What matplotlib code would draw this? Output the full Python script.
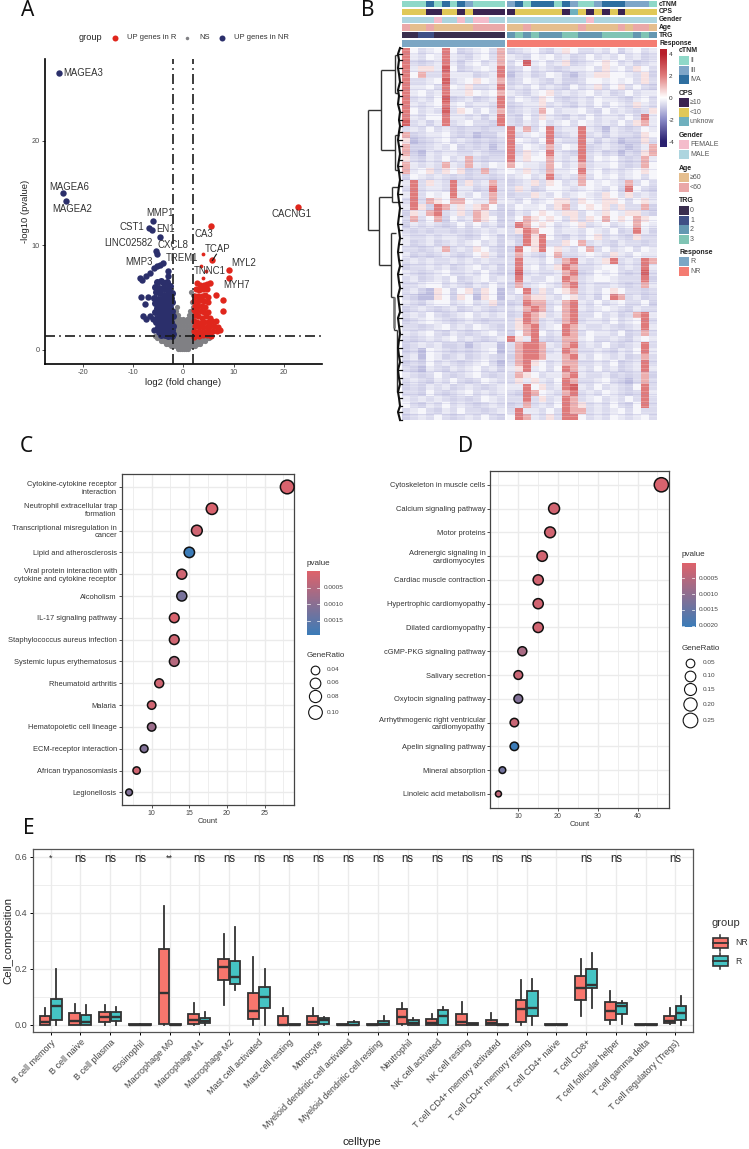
import numpy as np
import matplotlib
matplotlib.use("Agg")
import matplotlib.pyplot as plt
from matplotlib.colors import LinearSegmentedColormap, ListedColormap

plt.rcParams['font.family'] = ['Liberation Sans', 'DejaVu Sans']
plt.rcParams['axes.unicode_minus'] = False

W, H = 749, 1149

##### Panel A - volcano
mag_points = [(-24.7, 26.5), (-24, 14.96), (-23.4, 14.2)]
blue_top = [(-6, 12.3), (-6.8, 11.65), (-6.2, 11.45), (-4.65, 10.75), (-5.5, 9.5), (-5.3, 9.15),
            (-4, 8.3), (-4.65, 8.15), (-5.3, 8), (-5.8, 7.8), (-6.6, 7.4), (-7.5, 7.1), (-8.6, 6.85),
            (-8.2, 6.65), (-3, 7.5), (-3, 7.1), (-8.4, 5.1), (-7, 5.1), (-7.6, 4.4), (-8, 3.25),
            (-7.5, 3), (-6.6, 3.2), (-6, 3), (-5.8, 1.9)]
blue_mass = [(-5.2, 6.5), (-4.5, 6.6), (-3.9, 6.4), (-3.2, 6.5), (-2.6, 6.1), (-5.6, 6), (-4.8, 5.9),
             (-4.1, 5.9), (-3.4, 5.8), (-2.8, 5.6), (-2.2, 5.4), (-5.4, 5.5), (-4.6, 5.4), (-3.9, 5.3),
             (-3.2, 5.2), (-2.5, 5), (-5.9, 5), (-5.1, 4.9), (-4.3, 4.9), (-3.6, 4.7), (-2.9, 4.6),
             (-2.2, 4.6), (-5.6, 4.5), (-4.8, 4.4), (-4, 4.3), (-3.3, 4.2), (-2.6, 4.1), (-5.2, 4),
             (-4.5, 3.9), (-3.7, 3.8), (-3, 3.7), (-2.3, 3.7), (-5.6, 3.6), (-4.9, 3.5), (-4.2, 3.4),
             (-3.4, 3.3), (-2.7, 3.2), (-2.1, 3.2), (-5.2, 3.1), (-4.5, 3), (-3.8, 2.9), (-3.1, 2.9),
             (-2.4, 2.7), (-5.5, 2.7), (-4.8, 2.6), (-4.1, 2.5), (-3.4, 2.4), (-2.7, 2.3), (-2.1, 2.3),
             (-5.1, 2.2), (-4.4, 2.1), (-3.7, 2), (-3, 1.95), (-2.3, 1.9), (-4.9, 1.75), (-4.1, 1.7),
             (-3.4, 1.6), (-2.7, 1.55), (-2.1, 1.5), (-4.5, 1.45), (-3.7, 1.4), (-3, 1.35), (-2.3, 1.35)]
red_big = [(22.8, 13.7), (5.45, 11.8), (5.7, 8.55), (9.1, 7.65), (9.15, 6.9), (6.5, 5.3), (8, 4.8), (8, 3.75), (5.3, 6.4)]
red_small = [(3.85, 9.2), (3.6, 8.05), (4, 6.9), (4.5, 7.5)]
red_mass = [(2.65, 6.4), (3.3, 6.2), (4.1, 6.2), (4.8, 6.3), (2.5, 5.8), (3.2, 5.7), (4, 5.8), (4.8, 5.8),
            (2.4, 5.2), (3, 5.2), (3.7, 5.2), (4.4, 5.3), (5, 5.1), (2.2, 4.7), (2.9, 4.7), (3.5, 4.8),
            (4.2, 4.7), (4.9, 4.6), (2.4, 4.2), (3, 4.2), (3.7, 4.2), (4.4, 4.1), (2.1, 3.8), (2.8, 3.7),
            (3.5, 3.7), (4.2, 3.6), (5, 3.6), (2.3, 3.3), (3, 3.2), (3.7, 3.1), (4.6, 3.2), (5.3, 3.1),
            (2.1, 2.8), (2.8, 2.7), (3.5, 2.6), (4.2, 2.7), (5, 2.7), (5.8, 2.8), (6.5, 2.8), (2.4, 2.3),
            (3.1, 2.2), (3.9, 2.2), (4.7, 2.2), (5.4, 2.3), (6.2, 2.3), (7, 2.2), (2.1, 1.8), (2.8, 1.75),
            (3.5, 1.7), (4.3, 1.7), (5.1, 1.8), (5.9, 1.8), (6.7, 1.8), (7.4, 1.9), (2.4, 1.4), (3.2, 1.35),
            (4, 1.4), (4.8, 1.4), (5.5, 1.35), (2.1, 1.2)]
grey_rows = {
    0.1: [-1, -0.6, -0.2, 0.2, 0.6, 1],
    0.35: [-2.4, -2, -1.4, -0.8, -0.2, 0.4, 1, 1.6, 2, 2.4],
    0.6: [-3.4, -3, -2.4, -1.8, -1.2, -0.6, 0, 0.6, 1.2, 1.8, 2.4, 3, 3.4],
    0.85: [-4.4, -4, -3.4, -2.8, -2.2, -1.6, -1, -0.4, 0.2, 0.8, 1.4, 2, 2.6, 3.2, 3.8, 4.4],
    1.1: [-5.2, -4.6, -4, -3.4, -2.8, -2.2, -1.6, -1, -0.4, 0.2, 0.8, 1.4, 2, 2.6, 3.2, 3.8, 4.4, 5, 5.2],
    1.3: [-5.6, -4.7, -3.5, -2.5, -1.5, -0.5, 0.5, 1.5, 2.5, 3.5, 4.7, 5.6],
    1.6: [-1.9, -1.3, -0.7, -0.1, 0.5, 1.1, 1.7],
    1.95: [-1.7, -1.1, -0.5, 0.1, 0.7, 1.3, 1.9],
    2.3: [-1.9, -1.3, -0.7, -0.1, 0.5, 1.1, 1.7],
    2.65: [-1.7, -1.1, -0.5, 0.1, 0.7, 1.3, 1.9],
    3.0: [-1.9, -1.3, -0.7, 0, 0.7, 1.3, 1.9],
    3.35: [-1.7, -1.1, 1.1, 1.7],
    3.7: [-1.9, -1.4, 1.4, 1.9],
    4.15: [-1.3, 1.9],
    4.55: [1.7],
    5.3: [2],
    5.5: [1.5],
}
gene_labels = ["MAGEA3", "MAGEA6", "MAGEA2", "CACNG1", "MMP1", "CST1", "EN1", "LINC02582", "CXCL8", "CA3",
               "TCAP", "TREM1", "MMP3", "MYL2", "TNNC1", "MYH7"]
gene_x = [-23.9, -22.7, -22, 21.45, -4.6, -10.2, -3.6, -11, -2, 4.1, 6.85, -0.2, -8.8, 12.1, 5.2, 10.55]
gene_y = [26.5, 15.6, 13.46, 13, 13.05, 11.77, 11.6, 10.2, 10, 11.1, 9.6, 8.8, 8.4, 8.35, 7.55, 6.2]

##### Panel B - heatmap, one letter per cell (a = most blue, j = most red)
heat_levels = dict(zip("abcdefghij", [-1.8, -1.1, -0.8, -0.6, -0.4, -0.15, 0.45, 1.2, 2.0, 2.6]))
heat_left = [
    "ifdefifcdefdh", "iedfeiedcefdh", "idcdeiecefdeh", "ieggejfcdefei", "ifhddieeecdei", "iddefjdefgfeh",
    "ieefdifegddei", "iefdeieegfefh", "idedfjcdecdei", "iedefiefdeedi", "ifdedjdgfdfdh", "iedffieedecei",
    "jdeceidefddci", "dedfdedcddcdd", "hcdeefdcdbcce", "gbcdefdedcdcd", "hccdedfcdcdbd", "hcbedeeddedcc",
    "gdcedfdehdcdd", "hededhedhedfe", "hefgdgfgcdhde", "cfededcdcddcd", "eidgedidgdehd", "dideedieecdid",
    "eidfefiedfdhd", "didhgfhhfeehe", "eigcihegeghfc", "cgehidegdhgdc", "dhdfhcfdehgfc", "cededcdfdfdec",
    "dcdcddcdcdede", "eddedeedcdfec", "ecdecdedefdec", "ddcdehdedgfdc", "ecdcdedcdfgec", "dededdedededd",
    "cddedecdefdec", "edcdefddedfdc", "decdedfcdefde", "ddeffdedcedfd", "decbgfcfgcgfb", "dcbbgfcgfbgfb",
    "edceffdefdegc", "cdedcdecdedcd", "dedfdcdefdede", "cdefedcdedcdd", "ddcdefdedfedc", "edefdcedcdefd",
    "dcdedefdedcde", "cdedeccdbdeeb", "cdbfedcdcdefb", "debfecdecdedc", "cdcfdedcdefdb", "dcbedcedefdec",
    "edcdfdcdefdcd", "dedcedfdcdfed", "cdcedecdedcde", "ddcfdcdefdede", "edededcdcdfed", "fdcedfdedcded",
    "defdcedfddcde", "cdedfdcdedfdc",
]
heat_right = [
    "cdefdcegfddedfcefde", "edcfefdecdfdedfdecd", "dfjefdegcdefgfdecde", "cdfdedcdeefdgefdgfd",
    "bdecdfecbdeggffedgc", "cdfedceccdffefefdgd", "dedfdedcfdegdfgdfdc", "edcefgdedefdecdfdee",
    "dfedgfdcdedfeedcefd", "cdeegdedcedfdfedged", "cdedhfdeefdcfdedcdg", "dcfdgedcedfdeedfdie",
    "dcedfdefdfededfdghe", "iehdfideeiedbedcdfe", "idefeicdeideceddcgf", "ifedfieddiecedbccgd",
    "idfedhdfeicdedcbceh", "idgefiedcidecdbdcgh", "iegffhedeidfefdcdhe", "hfeedhfdehdeefdcdhf",
    "fegedheefiefdedefgf", "defdeidedhdfefdefdf", "cdegdgfdehfefedhdfd", "dgecdffedefedfcifdc",
    "cddgedfdefedgfdgded", "edfdefggdgfeggfdfge", "dfeefdghdfgfgdgddhc", "cedfgfeggdfegfeggdc",
    "dfhgfgfdgdgfhfgfhgf", "dihfgfdefgdefdefhfe", "dgihffdeedfedfcdiec", "dcigifdcedfgdedcgdd",
    "ecigiddgfhdedceddcd", "cifgifgedfhdfdefdfe", "dhedcfhddefedgedfee", "dieedfdhiedegidedih",
    "diefdegihddeffdedie", "cjdeddehicdfefdcdjd", "dieddfeihdeffedddic", "chdefedhideddedcdhe",
    "dfidgdfghdedfgfddcd", "edhggedfgdecfihdecd", "cdihhdehiedfdefddfc", "dehihdfhiedefedcedd",
    "cdihgdehiddfdecdhie", "dgihdedhideedfdefid", "dghidefiheddedcdeie", "cfhifdeihdfeedfcdhd",
    "igeidcdhhefddedcefe", "dhiihedhidedfdcdeid", "dhiihdeihddedcedfie", "chiiheehiedfedecdhd",
    "dhigfdehhddedfcdeid", "egiefdfihedfdecdeie", "dhgfdeehieddecdcdhc", "dgegedfihddefdcbdhd",
    "eeifgdeijedfdedcfid", "dcihfedhidedfedcdie", "ddidgdeihdefdedfdid", "cdhdedfihgdedfdcfid",
    "dieedfdihhdedefdfdd", "fihedgdiifdedfedefd",
]
# thin pale and blue row stripes seen across the heatmap, in row units
stripe_pale = [0.3, 1.2, 1.7, 2.6, 3.4, 4.1, 4.8, 5.5, 6.3, 7.2, 7.7, 8.6, 9.3, 10.1, 10.8, 11.5, 12.4, 13.7, 14.3, 15.2,
               16.1, 16.7, 17.6, 18.4, 19.2, 20.6, 21.3, 22.4, 23.2, 23.9, 24.7, 25.5, 26.4, 27.1, 28.3, 29.2, 30.1,
               30.8, 31.6, 32.5, 33.3, 34.2, 35.4, 36.3, 37.1, 37.8, 38.6, 39.5, 40.4, 41.2, 42.1, 43.3, 44.2, 44.9,
               45.7, 46.6, 47.4, 48.3, 49.2, 50.1, 50.9, 51.8, 52.6, 53.3, 54.2, 55.1, 56.3, 57.2, 58.1, 58.8, 59.7, 60.6, 61.4]
stripe_blue = [0.8, 2.1, 3.8, 5.9, 6.8, 8.2, 9.7, 11.1, 12.9, 14.8, 15.7, 17.2, 18.8, 20.2, 21.8, 23.6, 25.1, 26.9, 28.7,
               29.7, 31.2, 32.9, 34.7, 35.9, 37.5, 39.1, 40.9, 42.7, 43.8, 45.3, 47, 48.8, 50.5, 52.2, 53.8, 55.6, 57.7, 59.2, 61]

# annotation bars (level index per column)
ctnm_left = [0, 0, 0, 2, 0, 2, 0, 2, 1, 0, 0, 0, 0]
ctnm_right = [1, 2, 0, 2, 2, 2, 0, 2, 1, 0, 0, 1, 2, 2, 2, 1, 1, 1, 0]
cps_left = [1, 1, 1, 0, 0, 1, 1, 0, 1, 0, 0, 0, 0]
cps_right = [0, 1, 1, 1, 1, 1, 1, 0, 2, 1, 0, 1, 0, 1, 0, 1, 1, 1, 1]
gender_left = [1, 1, 1, 1, 0, 1, 1, 0, 1, 0, 0, 1, 1]
gender_right = [1] * 10 + [0] + [1] * 8
age_left = [1, 0, 0, 1, 0, 0, 0, 0, 0, 1, 1, 1, 1]
age_right = [0, 0, 1, 0, 0, 0, 0, 0, 0, 1, 0, 0, 0, 0, 1, 0, 1, 1, 0]
trg_left = [0, 0, 1, 1, 0, 0, 0, 0, 0, 0, 0, 0, 0]
trg_right = [2, 3, 2, 3, 2, 2, 2, 3, 3, 2, 2, 2, 3, 3, 3, 3, 2, 3, 2]
resp_left = [0] * 13
resp_right = [1] * 19

annot_names = ["cTNM", "CPS", "Gender", "Age", "TRG", "Response"]
annot_levels = [["II", "III", "IVA"], ["≥10", "<10", "unknow"], ["FEMALE", "MALE"], ["≥60", "<60"],
                ["0", "1", "2", "3"], ["R", "NR"]]
annot_colors = [["#8FD8C8", "#7FA6C8", "#2F6FA0"], ["#3A2350", "#E0C858", "#6FB0BE"], ["#F4BCCB", "#ADD5DF"],
                ["#E5BE8E", "#EAA8A8"], ["#3A2E4E", "#3F4F85", "#6497B1", "#80C4B4"], ["#7BA6C4", "#F47C72"]]

##### Panel C
terms_c = ["Cytokine-cytokine receptor\ninteraction", "Neutrophil extracellular trap\nformation",
           "Transcriptional misregulation in\ncancer", "Lipid and atherosclerosis",
           "Viral protein interaction with\ncytokine and cytokine receptor", "Alcoholism",
           "IL-17 signaling pathway", "Staphylococcus aureus infection", "Systemic lupus erythematosus",
           "Rheumatoid arthritis", "Malaria", "Hematopoietic cell lineage", "ECM-receptor interaction",
           "African trypanosomiasis", "Legionellosis"]
count_c = [28, 18, 16, 15, 14, 14, 13, 13, 13, 11, 10, 10, 9, 8, 7]
ratio_c = [0.107, 0.069, 0.061, 0.057, 0.053, 0.053, 0.050, 0.050, 0.050, 0.042, 0.038, 0.038, 0.034, 0.031, 0.027]
pval_c = [0.0001, 0.0001, 0.0002, 0.0019, 0.0002, 0.0012, 0.0001, 0.0002, 0.0005, 0.0002, 0.0002, 0.0008, 0.0011, 0.0002, 0.0011]

##### Panel D
terms_d = ["Cytoskeleton in muscle cells", "Calcium signaling pathway", "Motor proteins",
           "Adrenergic signaling in\ncardiomyocytes", "Cardiac muscle contraction", "Hypertrophic cardiomyopathy",
           "Dilated cardiomyopathy", "cGMP-PKG signaling pathway", "Salivary secretion", "Oxytocin signaling pathway",
           "Arrhythmogenic right ventricular\ncardiomyopathy", "Apelin signaling pathway", "Mineral absorption",
           "Linoleic acid metabolism"]
count_d = [46, 19, 18, 16, 15, 15, 15, 11, 10, 10, 9, 9, 6, 5]
ratio_d = [0.27, 0.11, 0.105, 0.094, 0.088, 0.088, 0.088, 0.065, 0.059, 0.059, 0.053, 0.053, 0.035, 0.029]
pval_d = [0.0001, 0.0002, 0.0002, 0.0002, 0.0002, 0.0002, 0.0002, 0.0007, 0.0003, 0.0012, 0.0003, 0.0021, 0.0014, 0.0004]

##### Panel E
celltypes = ["B cell memory", "B cell naive", "B cell plasma", "Eosinophil", "Macrophage M0", "Macrophage M1",
             "Macrophage M2", "Mast cell activated", "Mast cell resting", "Monocyte", "Myeloid dendritic cell activated",
             "Myeloid dendritic cell resting", "Neutrophil", "NK cell activated", "NK cell resting",
             "T cell CD4+ memory activated", "T cell CD4+ memory resting", "T cell CD4+ naive", "T cell CD8+",
             "T cell follicular helper", "T cell gamma delta", "T cell regulatory (Tregs)"]
nr_lo = [0, 0, 0, 0, 0, 0, 0.07, 0, 0, 0, 0, 0, 0, 0, 0, 0, 0, 0, 0.029, 0.003, 0, 0.002]
nr_q1 = [0, 0, 0.01, 0, 0.003, 0.001, 0.16, 0.021, 0, 0, 0, 0, 0.003, 0, 0, 0, 0.01, 0, 0.088, 0.018, 0, 0.005]
nr_med = [0.008, 0.012, 0.027, 0, 0.112, 0.017, 0.205, 0.05, 0, 0.008, 0, 0, 0.026, 0.007, 0.01, 0.005, 0.056, 0, 0.129, 0.048, 0, 0.014]
nr_q3 = [0.03, 0.043, 0.044, 0.002, 0.27, 0.038, 0.235, 0.112, 0.03, 0.032, 0.002, 0.002, 0.055, 0.019, 0.037, 0.018, 0.089, 0.002, 0.175, 0.081, 0.002, 0.031]
nr_hi = [0.06, 0.073, 0.07, 0.002, 0.424, 0.078, 0.322, 0.24, 0.06, 0.06, 0.002, 0.002, 0.076, 0.037, 0.082, 0.04, 0.16, 0.002, 0.235, 0.119, 0.002, 0.06]
r_lo = [0, 0, 0, 0, 0, 0, 0.124, 0, 0, 0, 0, 0, 0, 0, 0, 0, 0, 0, 0.058, 0.003, 0, 0]
r_q1 = [0.015, 0, 0.014, 0, 0, 0.005, 0.144, 0.06, 0, 0.002, 0, 0, 0, 0, 0, 0, 0.031, 0, 0.13, 0.038, 0, 0.015]
r_med = [0.068, 0.008, 0.026, 0, 0, 0.014, 0.171, 0.098, 0, 0.016, 0, 0.002, 0.005, 0.029, 0.002, 0, 0.058, 0, 0.143, 0.067, 0, 0.04]
r_q3 = [0.092, 0.036, 0.046, 0.002, 0.002, 0.023, 0.226, 0.133, 0.002, 0.024, 0.011, 0.014, 0.017, 0.051, 0.007, 0.003, 0.121, 0.002, 0.2, 0.077, 0.002, 0.065]
r_hi = [0.2, 0.07, 0.063, 0.002, 0.002, 0.044, 0.349, 0.2, 0.002, 0.028, 0.012, 0.03, 0.022, 0.062, 0.007, 0.003, 0.162, 0.002, 0.255, 0.086, 0.002, 0.102]
sig_labels = ["*", "ns", "ns", "ns", "**", "ns", "ns", "ns", "ns", "ns", "ns", "ns", "ns", "ns", "ns", "ns", "ns", "", "ns", "ns", "", "ns"]


fig = plt.figure(figsize=(W / 100, H / 100), dpi=100)


def add_px_ax(x0, y0, x1, y1):
    return fig.add_axes([x0 / W, 1 - y1 / H, (x1 - x0) / W, (y1 - y0) / H])


def md(d):
    # pixel diameter to scatter size
    return (d * 0.72) ** 2


# overlay in pixel coordinates, for legends and letters
ov = fig.add_axes([0, 0, 1, 1], zorder=10)
ov.set_xlim(0, W)
ov.set_ylim(H, 0)
ov.axis("off")

for letter, lx, ly in [("A", 21, 11), ("B", 361, 10), ("C", 20, 446), ("D", 458, 446), ("E", 23, 829)]:
    ov.text(lx, ly, letter, fontsize=15, family="Noto Sans", va="center", ha="left", color="#111111")

##### A
ax = add_px_ax(45, 59, 322, 364)
ax.set_xlim(-27.5, 27.6)
ax.set_ylim(-1.34, 27.8)
gx = [x for y, xs in grey_rows.items() for x in xs]
gy = [y for y, xs in grey_rows.items() for x in xs]
ax.scatter(gx, gy, s=md(5.2), color="#808084", lw=0, zorder=2)
for pts, col, d in [(blue_mass, "#2B2F6B", 7), (blue_top, "#2B2F6B", 6.4), (mag_points, "#2B2F6B", 6.4),
                    (red_mass, "#E0261C", 6.2), (red_big, "#E0261C", 6.4), (red_small, "#E0261C", 3.8)]:
    xs, ys = zip(*pts)
    ax.scatter(xs, ys, s=md(d), color=col, lw=0, zorder=3)
dash = (0, (6, 2.5, 1, 2.5))
for v in [-2, 2]:
    ax.axvline(v, color="#1a1a1a", lw=1.2, ls=dash, zorder=4)
ax.axhline(1.3, color="#1a1a1a", lw=1.2, ls=dash, zorder=4)
for name, x, y in zip(gene_labels, gene_x, gene_y):
    ha = "left" if name == "MAGEA3" else "center"
    ax.text(x, y, name, fontsize=6.9, color="#333333", ha=ha, va="center", zorder=5)
ax.plot([6.6, 5.8], [9.15, 8.55], color="#111111", lw=0.8, zorder=5)
for s in ["top", "right"]:
    ax.spines[s].set_visible(False)
for s in ["left", "bottom"]:
    ax.spines[s].set_linewidth(1.2)
ax.set_xticks([-20, -10, 0, 10, 20])
ax.set_yticks([0, 10, 20])
ax.tick_params(labelsize=5.3, length=2, width=0.7, colors="#4d4d4d", pad=1.5)
ax.set_xlabel("log2 (fold change)", fontsize=6.8, color="#222222", labelpad=1.5)
ax.set_ylabel("-log10 (pvalue)", fontsize=6.8, color="#222222", labelpad=1.5)

ov.text(79, 38, "group", fontsize=6.6, color="#222222", va="center")
for cx, col, d, lab, tx in [(114.7, "#E0261C", 6, "UP genes in R", 126.7), (187, "#808084", 3.5, "NS", 199),
                            (222, "#2B2F6B", 6, "UP genes in NR", 234)]:
    ov.scatter([cx], [37.5], s=md(d), color=col, lw=0)
    ov.text(tx, 37.5, lab, fontsize=5.5, color="#333333", va="center")

##### B
heat_cmap = LinearSegmentedColormap.from_list("heat", [(0, "#2B2170"), (0.25, "#8C8CC8"), (0.5, "#FFFFFF"),
                                                       (0.75, "#E07C7C"), (1, "#B8202B")])
mat_left = np.array([[heat_levels[c] for c in row] for row in heat_left])
mat_right = np.array([[heat_levels[c] for c in row] for row in heat_right])
x_left = (402.3, 505)
x_right = (507.3, 656.7)
for (x0, x1), mat in [(x_left, mat_left), (x_right, mat_right)]:
    a = add_px_ax(x0, 48.3, x1, 420)
    a.imshow(mat, cmap=heat_cmap, vmin=-4, vmax=4, aspect="auto", interpolation="nearest",
             extent=[0, mat.shape[1], 62, 0])
    a.hlines(stripe_pale, 0, mat.shape[1], color="white", lw=0.55, alpha=0.25)
    a.hlines(stripe_blue, 0, mat.shape[1], color="#9A9AD0", lw=0.5, alpha=0.3)
    a.axis("off")

annot_y = [(1, 7.5), (8.7, 15), (16.7, 22.7), (24.3, 30.7), (32, 38.3), (40, 46.7)]
annot_left = [ctnm_left, cps_left, gender_left, age_left, trg_left, resp_left]
annot_right = [ctnm_right, cps_right, gender_right, age_right, trg_right, resp_right]
for i, name in enumerate(annot_names):
    y0, y1 = annot_y[i]
    cm = ListedColormap(annot_colors[i])
    n = len(annot_colors[i])
    for (x0, x1), codes in [(x_left, annot_left[i]), (x_right, annot_right[i])]:
        a = add_px_ax(x0, y0, x1, y1)
        a.imshow([codes], cmap=cm, vmin=-0.5, vmax=n - 0.5, aspect="auto", interpolation="nearest")
        a.axis("off")
    ov.text(659, (y0 + y1) / 2, name, fontsize=4.9, fontweight="bold", color="#222222", va="center")

# colour bar of the heatmap
cb = add_px_ax(660, 48.7, 667, 147)
cb.imshow(np.linspace(4.5, -4.5, 200)[:, None], cmap=heat_cmap, vmin=-4, vmax=4, aspect="auto", extent=[0, 1, -4.5, 4.5])
cb.set_xticks([])
cb.set_yticks([-4, -2, 0, 2, 4])
cb.tick_params(axis="y", length=0, labelsize=4.6, labelcolor="#333333", pad=1.5, labelright=True, labelleft=False)
for s in cb.spines.values():
    s.set_visible(False)

legend_title_y = [51, 93.7, 135.7, 168.7, 201, 252.7]
legend_start_y = [56, 98, 140, 173, 206, 257]
for i, name in enumerate(annot_names):
    ov.text(679, legend_title_y[i], name, fontsize=5, fontweight="bold", color="#222222", va="center")
    for j, lev in enumerate(annot_levels[i]):
        yy = legend_start_y[i] + j * 9.5
        ov.add_patch(plt.Rectangle((679, yy), 9.5, 9.3, color=annot_colors[i][j], lw=0))
        ov.text(690, yy + 4.7, lev, fontsize=5, color="#555555", va="center")

# dendrogram (pixel coordinates, merges)
dendro_segments = [(368, 110, 368, 230), (368, 110, 381, 110), (368, 230, 379, 230), (381, 70, 381, 150),
                   (381, 70, 395, 70), (381, 150, 395, 150), (395, 55, 395, 93), (395, 135, 395, 170),
                   (379, 197, 379, 265), (379, 197, 392, 197), (379, 265, 391, 265), (392, 187, 392, 202),
                   (392, 187, 398, 187), (392, 202, 398, 202), (391, 233, 391, 297), (391, 233, 396, 233),
                   (391, 297, 394, 297), (394, 297, 394, 330), (394, 330, 397, 330), (397, 330, 397, 392),
                   (395, 55, 398, 55), (395, 93, 398, 93), (395, 135, 399, 135), (395, 170, 399, 170)]
for x0, y0, x1, y1 in dendro_segments:
    ov.plot([x0, x1], [y0, y1], color="#333333", lw=1.0, solid_capstyle="butt")
ov.plot([394, 394], [297, 328], color="#777777", lw=1.8, solid_capstyle="butt")
comb_y = [48, 54, 60, 68, 74, 82, 90, 96, 104, 112, 120, 126, 132, 140, 146, 154, 160, 166, 172, 180, 186, 194, 202, 208, 216,
          224, 230, 238, 244, 252, 260, 266, 274, 282, 288, 296, 304, 312, 318, 326, 334, 340, 348, 356, 362, 370, 378,
          384, 392, 398, 406, 412, 420]
comb_x = [400, 398, 399, 398, 399, 400, 398, 399, 398, 400, 399, 400, 399, 398, 399, 400, 399, 398, 399, 400, 399, 398, 399, 400, 399,
          398, 399, 400, 399, 398, 399, 400, 398, 399, 400, 398, 399, 400, 398, 399, 400, 399, 398, 399, 400, 398, 399,
          400, 398, 399, 400, 398, 400]
ov.plot(comb_x, comb_y, color="#111111", lw=1.5)
for x, y in zip(comb_x, comb_y):
    ov.plot([x, 402], [y, y], color="#111111", lw=0.9)

##### C and D
pval_cmap = LinearSegmentedColormap.from_list("pv", ["#E0626A", "#3C7CB8"])


def dot_panel(box, xlim, xticks, minor, terms, counts, ratios, pvals, pmax, size_x, size_d):
    a = add_px_ax(*box)
    a.set_xlim(*xlim)
    a.set_ylim(len(terms) - 1 + 0.58, -0.58)
    a.set_xticks(xticks)
    a.set_xticks(minor, minor=True)
    a.set_yticks(range(len(terms)))
    a.set_yticklabels(terms, fontsize=5.4, color="#333333", linespacing=1.15)
    a.tick_params(axis="x", labelsize=5, labelcolor="#444444", length=2, width=0.6, pad=1.5, color="#333333")
    a.tick_params(axis="y", length=2, width=0.6, pad=1.5, color="#333333")
    a.tick_params(axis="x", which="minor", length=0)
    a.grid(True, which="major", color="#EBEBEB", lw=1)
    a.grid(True, which="minor", axis="x", color="#EBEBEB", lw=0.6)
    a.set_axisbelow(True)
    for s in a.spines.values():
        s.set_color("#444444")
        s.set_linewidth(0.9)
    d = np.interp(ratios, size_x, size_d)
    a.scatter(counts, range(len(terms)), s=md(d), c=pvals, cmap=pval_cmap, vmin=0, vmax=pmax,
              edgecolors="#111111", linewidths=1.1, zorder=3, clip_on=False)
    a.set_xlabel("Count", fontsize=5.4, color="#333333", labelpad=1)
    return a


dot_panel((121.7, 474.3, 294.3, 805), (6.02, 28.94), [10, 15, 20, 25], [7.5, 12.5, 17.5, 22.5, 27.5],
          terms_c, count_c, ratio_c, pval_c, 0.0019,
          [0.027, 0.04, 0.06, 0.08, 0.107], [6.7, 8.7, 10.7, 12.2, 13.7])
dot_panel((490.3, 471, 669.3, 807.7), (2.95, 48), [10, 20, 30, 40], [5, 15, 25, 35, 45],
          terms_d, count_d, ratio_d, pval_d, 0.0021,
          [0.029, 0.05, 0.10, 0.15, 0.20, 0.27], [6, 8.3, 10.7, 12, 13.3, 14.2])


def p_legend(x0, x1, y0, y1, ticks, pmax, title_y, size_title_y, cx, tick_x, size_ys, size_ds, size_labs, lab_x):
    a = add_px_ax(x0, y0, x1, y1)
    a.imshow(np.linspace(0, pmax, 100)[:, None], cmap=pval_cmap, vmin=0, vmax=pmax, aspect="auto", extent=[0, 1, pmax, 0])
    a.set_xticks([])
    a.set_yticks([])
    for s in a.spines.values():
        s.set_visible(False)
    for t in ticks:
        a.plot([0, 0.2], [t, t], color="white", lw=0.5)
        a.plot([0.8, 1], [t, t], color="white", lw=0.5)
        yy = y0 + (y1 - y0) * t / pmax
        ov.text(tick_x, yy, f"{t:.4f}", fontsize=4.6, color="#444444", va="center")
    a.set_xlim(0, 1)
    a.set_ylim(pmax, 0)
    ov.text(x0, title_y, "pvalue", fontsize=5.8, color="#333333", va="center")
    ov.text(x0, size_title_y, "GeneRatio", fontsize=5.8, color="#333333", va="center")
    for yy, dd, lab in zip(size_ys, size_ds, size_labs):
        ov.scatter([cx], [yy], s=md(dd), facecolors="white", edgecolors="#111111", linewidths=0.8)
        ov.text(lab_x, yy, lab, fontsize=4.6, color="#444444", va="center")


p_legend(307, 320, 571.3, 635.3, [0.0005, 0.0010, 0.0015], 0.00195, 563.7, 655.3, 315, 324,
         [669.7, 682.7, 696.3, 712], [8.7, 10.7, 12.2, 13.7], ["0.04", "0.06", "0.08", "0.10"], 327)
p_legend(681.7, 695, 562.7, 627.3, [0.0005, 0.0010, 0.0015, 0.0020], 0.00205, 554.7, 648, 690.3, 699,
         [662.7, 675.7, 689.3, 704, 720.3], [8.7, 10.7, 12, 13.3, 14.7], ["0.05", "0.10", "0.15", "0.20", "0.25"], 702.7)

##### E
ax = add_px_ax(33.3, 849.3, 693.3, 1032.3)
ax.set_xlim(-0.585, 21.6)
ax.set_ylim(-0.0275, 0.626)
pos = np.arange(len(celltypes))


def box_stats(lo, q1, med, q3, hi):
    return [dict(whislo=a, q1=b, med=c, q3=d, whishi=e, fliers=[]) for a, b, c, d, e in zip(lo, q1, med, q3, hi)]


for stats, off, col in [(box_stats(nr_lo, nr_q1, nr_med, nr_q3, nr_hi), -0.19, "#F8766D"),
                        (box_stats(r_lo, r_q1, r_med, r_q3, r_hi), 0.19, "#45C4C4")]:
    ax.bxp(stats, positions=pos + off, widths=0.36, showcaps=False, showfliers=False, patch_artist=True, manage_ticks=False,
           boxprops=dict(facecolor=col, edgecolor="#333333", linewidth=1.3),
           medianprops=dict(color="#333333", linewidth=1.7, solid_capstyle="butt"),
           whiskerprops=dict(color="#333333", linewidth=1.3), zorder=3)
ax.set_xticks(pos)
ax.set_xticklabels(celltypes, rotation=45, ha="right", rotation_mode="anchor", fontsize=6.5, color="#444444")
ax.set_yticks([0, 0.2, 0.4, 0.6])
ax.set_yticks([0.1, 0.3, 0.5], minor=True)
ax.tick_params(axis="y", labelsize=6.6, labelcolor="#4d4d4d", length=2.5, width=0.7, pad=1.5)
ax.tick_params(axis="y", which="minor", length=0)
ax.tick_params(axis="x", length=2.5, width=0.7, pad=1.5)
ax.grid(True, which="major", color="#EBEBEB", lw=1)
ax.grid(True, which="minor", axis="y", color="#EBEBEB", lw=0.6)
ax.set_axisbelow(True)
for s in ax.spines.values():
    s.set_color("#555555")
    s.set_linewidth(0.9)
for x, lab in zip(pos, sig_labels):
    if lab.startswith("*"):
        ax.text(x, 0.593, lab, fontsize=6.5, color="#222222", ha="center", va="center", zorder=4)
    else:
        ax.text(x, 0.592, lab, fontsize=8.3, color="#222222", ha="center", va="center", zorder=4)
ax.set_ylabel("Cell_composition", fontsize=8.2, color="#222222", labelpad=1.5)
ov.text(362, 1142, "celltype", fontsize=8.2, color="#222222", ha="center", va="center")

ov.text(711, 923, "group", fontsize=8, color="#333333", va="center")
for yy, col, lab in [(942.7, "#F8766D", "NR"), (961, "#45C4C4", "R")]:
    ov.plot([720, 720], [yy - 8, yy + 8], color="#333333", lw=1.1)
    ov.add_patch(plt.Rectangle((712.5, yy - 5), 15, 10, facecolor=col, edgecolor="#333333", lw=1.2, zorder=3))
    ov.plot([712.5, 727.5], [yy, yy], color="#333333", lw=1.3, zorder=4)
    ov.text(735, yy, lab, fontsize=6.2, color="#333333", va="center")

ov.set_xlim(0, W)
ov.set_ylim(H, 0)
fig.savefig("out.png", dpi=100)
